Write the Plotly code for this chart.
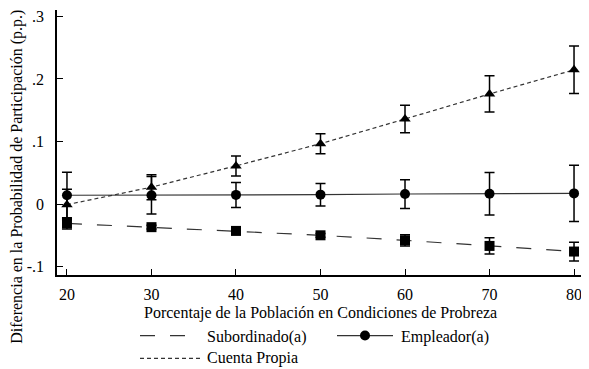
import plotly.graph_objects as go

x_vals = [20, 30, 40, 50, 60, 70, 80]
x_ticks = [20, 30, 40, 50, 60, 70, 80]
y_ticks = [-0.1, 0, 0.1, 0.2, 0.3]
y_tick_labels = ["-.1", "0", ".1", ".2", ".3"]

sub_y = [-0.031, -0.037, -0.043, -0.050, -0.058, -0.067, -0.076]
sub_err = [0.009, 0.003, 0.003, 0.003, 0.009, 0.013, 0.015]

emp_y = [0.014, 0.014, 0.0146, 0.015, 0.016, 0.0165, 0.017]
emp_err = [0.037, 0.030, 0.020, 0.018, 0.023, 0.034, 0.045]

cp_y = [-0.001, 0.027, 0.061, 0.0965, 0.136, 0.176, 0.2146]
cp_err = [0.0245, 0.020, 0.016, 0.016, 0.022, 0.029, 0.038]

names = ["Subordinado(a)", "Empleador(a)", "Cuenta Propia"]

FONT = "Liberation Serif, Times New Roman, serif"
OFF = 8  # page body margin
W, H = 589 - OFF, 369 - OFF
L, R, T, B = 57 - OFF, 5, 0, 94

fig = go.Figure()

def err(e):
    return dict(type="data", array=e, visible=True, color="black", thickness=1.5, width=5)

fig.add_trace(go.Scatter(
    x=x_vals, y=sub_y, mode="lines+markers", name=names[0],
    line=dict(color="#333333", width=1.2, dash="15px,15px"),
    marker=dict(symbol="square", size=10, color="black"),
    error_y=err(sub_err)))
fig.add_trace(go.Scatter(
    x=x_vals, y=emp_y, mode="lines+markers", name=names[1],
    line=dict(color="#333333", width=1.2),
    marker=dict(symbol="circle", size=10, color="black"),
    error_y=err(emp_err)))
fig.add_trace(go.Scatter(
    x=x_vals, y=cp_y, mode="lines+markers", name=names[2],
    line=dict(color="#333333", width=1.2, dash="4px,3px"),
    marker=dict(symbol="triangle-up", size=10, color="black"),
    error_y=err(cp_err)))

pw = W - L - R
ph = H - T - B

def px2x(px):
    return (px - OFF - L) / pw

def py2y(py):
    return (H - B - (py - OFF)) / ph

shapes = [
    dict(type="line", xref="paper", yref="paper", x0=px2x(140), x1=px2x(200),
         y0=py2y(336), y1=py2y(336), line=dict(color="#333333", width=1.2, dash="15px,15px")),
    dict(type="line", xref="paper", yref="paper", x0=px2x(337), x1=px2x(393),
         y0=py2y(336), y1=py2y(336), line=dict(color="#333333", width=1.2)),
    dict(type="circle", xref="paper", yref="paper", xsizemode="pixel", ysizemode="pixel",
         xanchor=px2x(365), yanchor=py2y(336), x0=-5, x1=5, y0=-5, y1=5,
         fillcolor="black", line=dict(color="black", width=0)),
    dict(type="line", xref="paper", yref="paper", x0=px2x(140), x1=px2x(200),
         y0=py2y(359), y1=py2y(359), line=dict(color="#333333", width=1.2, dash="4px,3px")),
]

annotations = [
    dict(text=names[0], xref="paper", yref="paper", x=px2x(205), y=py2y(337),
         xanchor="left", yanchor="middle", showarrow=False, font=dict(family=FONT, size=16, color="black")),
    dict(text=names[1], xref="paper", yref="paper", x=px2x(399), y=py2y(337),
         xanchor="left", yanchor="middle", showarrow=False, font=dict(family=FONT, size=16, color="black")),
    dict(text=names[2], xref="paper", yref="paper", x=px2x(205), y=py2y(359),
         xanchor="left", yanchor="middle", showarrow=False, font=dict(family=FONT, size=16, color="black")),
    dict(text="Porcentaje de la Población en Condiciones de Probreza", xref="paper", yref="paper",
         x=px2x(320), y=py2y(313), xanchor="center", yanchor="middle", showarrow=False,
         font=dict(family=FONT, size=16, color="black")),
    dict(text="Diferencia en la Probabilidad de Participación (p.p.)", xref="paper", yref="paper",
         x=px2x(17), y=py2y(176), xanchor="center", yanchor="middle", showarrow=False, textangle=-90,
         font=dict(family=FONT, size=16, color="black")),
]

fig.update_layout(
    width=W, height=H,
    margin=dict(l=L, r=R, t=T, b=B, pad=0),
    paper_bgcolor="white", plot_bgcolor="white",
    showlegend=False,
    font=dict(family=FONT, size=16, color="black"),
    shapes=shapes, annotations=annotations,
    xaxis=dict(range=[18.82, 81.18], tickvals=x_ticks, ticks="inside", ticklen=6,
               tickcolor="black", showline=True, linecolor="black", linewidth=1.5,
               showgrid=False, zeroline=False, ticklabelstandoff=4,
               ticklabeloverflow="allow",
               tickfont=dict(family=FONT, size=16, color="black")),
    yaxis=dict(range=[-0.1135, 0.3103], tickvals=y_ticks, ticktext=y_tick_labels,
               ticks="inside", ticklen=6, tickcolor="black", showline=True,
               linecolor="black", linewidth=1.5, showgrid=False, zeroline=False,
               ticklabelstandoff=8, ticklabeloverflow="allow",
               tickfont=dict(family=FONT, size=16, color="black")),
)

fig.write_html("out.html")
